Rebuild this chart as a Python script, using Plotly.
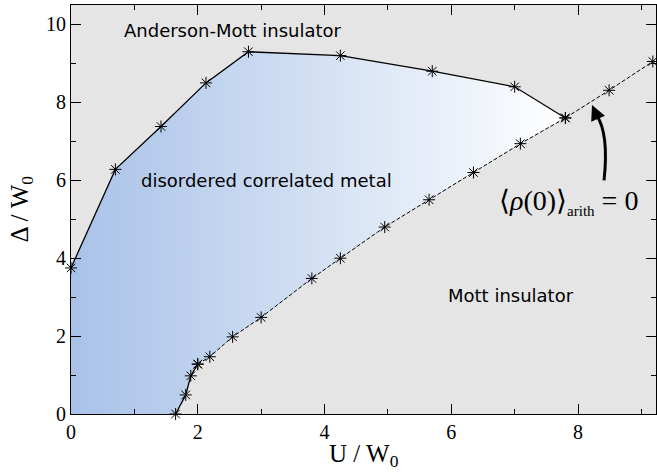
import plotly.graph_objects as go

# Upper boundary (Anderson-Mott transition), solid
upper_u = [0.0, 0.7, 1.42, 2.13, 2.8, 4.25, 5.7, 7.0, 7.8]
upper_d = [3.75, 6.28, 7.38, 8.5, 9.3, 9.2, 8.8, 8.4, 7.6]

# Lower boundary (Mott transition), first part solid
lower_solid_u = [1.65, 1.81, 1.89, 2.0]
lower_solid_d = [0.0, 0.49, 0.98, 1.28]

# Lower boundary, dashed part
lower_dash_u = [2.0, 2.19, 2.55, 3.0, 3.8, 4.25, 4.95, 5.65, 6.35, 7.09, 7.8, 8.49, 9.18]
lower_dash_d = [1.28, 1.47, 1.98, 2.48, 3.48, 4.0, 4.8, 5.5, 6.2, 6.94, 7.6, 8.31, 9.05]

x_ticks = [0, 2, 4, 6, 8]
y_ticks = [0, 2, 4, 6, 8, 10]

fig = go.Figure()

# gradient-filled metallic region
lower_all_u = lower_solid_u + lower_dash_u[1:]
lower_all_d = lower_solid_d + lower_dash_d[1:]
idx = lower_all_u.index(7.8)
poly_u = [0.0] + upper_u + lower_all_u[:idx][::-1] + [0.0]
poly_d = [0.0] + upper_d + lower_all_d[:idx][::-1] + [0.0]
fig.add_trace(go.Scatter(
    x=poly_u, y=poly_d, mode="none", fill="toself",
    fillgradient=dict(type="horizontal",
                      colorscale=[[0, "rgb(168,194,232)"], [1, "rgb(255,255,255)"]],
                      start=0, stop=7.8),
    hoverinfo="skip", showlegend=False))

marker = dict(symbol="asterisk-open", size=10, color="black",
              line=dict(color="black", width=1))

fig.add_trace(go.Scatter(x=upper_u, y=upper_d, mode="lines+markers",
                         line=dict(color="black", width=1.3), cliponaxis=False,
                         marker=marker, showlegend=False))
fig.add_trace(go.Scatter(x=lower_solid_u, y=lower_solid_d, mode="lines+markers",
                         line=dict(color="black", width=1.3), cliponaxis=False,
                         marker=marker, showlegend=False))
fig.add_trace(go.Scatter(x=lower_dash_u, y=lower_dash_d, mode="lines+markers",
                         line=dict(color="black", width=1, dash="4px,2px"), cliponaxis=False,
                         marker=marker, showlegend=False))

# curved arrow
fig.add_shape(type="path", path="M 8.41,6.0 Q 8.49,7.2 8.29,7.68",
              xref="x", yref="y", line=dict(color="black", width=3))
fig.add_annotation(x=8.22, y=7.93, ax=8.31, ay=7.6, xref="x", yref="y",
                   axref="x", ayref="y", showarrow=True, arrowhead=2,
                   arrowsize=1, arrowwidth=3, arrowcolor="black", text="")

sans = "DejaVu Sans"
serif = "Liberation Serif"
fig.add_annotation(x=2.56, y=9.85, text="Anderson-Mott insulator", showarrow=False,
                   font=dict(family=sans, size=18, color="black"))
fig.add_annotation(x=3.08, y=6.0, text="disordered correlated metal", showarrow=False,
                   font=dict(family=sans, size=18, color="black"))
fig.add_annotation(x=6.95, y=3.03, text="Mott insulator", showarrow=False,
                   font=dict(family=sans, size=18, color="black"))
fig.add_annotation(x=7.85, y=5.45,
                   text="⟨<i>ρ</i>(0)⟩<sub><span style='font-size:15px'>arith</span></sub> = 0",
                   showarrow=False, font=dict(family=serif, size=28, color="black"))

# axis titles
fig.add_annotation(xref="paper", yref="paper", x=0.5, y=0, yshift=-24, yanchor="top",
                   text="U / W<sub>0</sub>", showarrow=False,
                   font=dict(family=serif, size=25, color="black"))
fig.add_annotation(xref="paper", yref="paper", x=0, y=0.5, xshift=-50, xanchor="center",
                   textangle=-90, text="Δ / W<sub>0</sub>", showarrow=False,
                   font=dict(family=serif, size=25, color="black"))

axis_common = dict(showline=True, linecolor="black", linewidth=1, mirror="ticks",
                   ticks="inside", ticklen=10, tickcolor="black", tickwidth=1,
                   showgrid=False, zeroline=False, automargin=False,
                   tickfont=dict(family=serif, size=20, color="black"))

fig.update_xaxes(range=[0, 9.23], tickvals=x_ticks, ticktext=[str(v) for v in x_ticks],
                 minor=dict(tickvals=[1, 3, 5, 7, 9], ticklen=5, ticks="inside",
                            tickcolor="black"),
                 **axis_common)
fig.update_yaxes(range=[0, 10.5], tickvals=y_ticks, ticktext=[str(v) for v in y_ticks],
                 minor=dict(tickvals=[1, 3, 5, 7, 9], ticklen=5, ticks="inside",
                            tickcolor="black"),
                 **axis_common)

fig.update_layout(width=657, height=475, margin=dict(l=71, r=1, t=5, b=61),
                  plot_bgcolor="rgb(229,229,229)", paper_bgcolor="white")

fig.write_html("out.html", config={"displayModeBar": False},
               post_script="document.body.style.margin='0';document.body.style.overflow='hidden';")
